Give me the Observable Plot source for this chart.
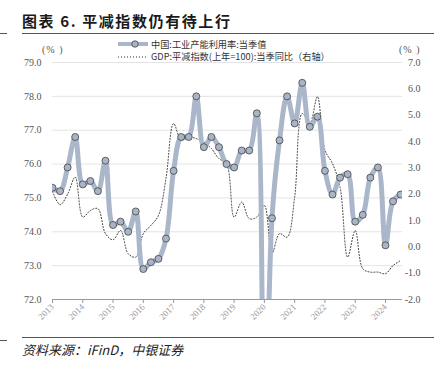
<!DOCTYPE html>
<html><head><meta charset="utf-8">
<script src="https://cdn.jsdelivr.net/npm/d3@7"></script>
<script src="https://cdn.jsdelivr.net/npm/@observablehq/plot@0.6"></script>
<style>
body{margin:0;background:#fff;}
#wrap{position:relative;width:442px;height:365px;overflow:hidden;font-family:"Noto Sans CJK SC",sans-serif;background:#fff;}
#title{position:absolute;left:22px;top:12px;font-size:15px;line-height:18px;font-weight:bold;color:#1a1a1a;white-space:nowrap;letter-spacing:1.6px;}
.rule{position:absolute;left:22px;width:412px;height:1.4px;background:#555;}
.dash{position:absolute;left:0;width:7px;height:1px;background:#555;}
.unit{position:absolute;font-family:"Liberation Serif",serif;font-size:10px;color:#555;letter-spacing:1px;line-height:12px;}
.leg{position:absolute;left:118px;height:11px;line-height:11px;display:flex;align-items:center;font-size:9.2px;color:#333;white-space:nowrap;}
.leg svg{margin-right:3px;}
#caption{position:absolute;left:22px;top:341px;font-size:13px;line-height:17px;font-style:italic;color:#222;white-space:nowrap;}
#chart{position:absolute;left:0;top:0;}
</style></head><body>
<div id="wrap">
  <div id="chart"></div>
  <div id="title">图表 6. 平减指数仍有待上行</div>
  <div class="rule" style="top:33px"></div>
  <div class="dash" style="top:33px"></div>
  <div class="unit" style="left:42px;top:44px">(% )</div>
  <div class="unit" style="left:399px;top:44px">(% )</div>
  <div class="leg" style="top:38.5px"><svg width="30" height="10"><line x1="0" y1="5" x2="30" y2="5" stroke="#aab6c9" stroke-width="4"/><circle cx="17" cy="5" r="3.2" fill="#a9b4c6" stroke="#444" stroke-width="0.8"/></svg>中国:工业产能利用率:当季值</div>
  <div class="leg" style="top:51px"><svg width="30" height="10"><line x1="0" y1="5" x2="30" y2="5" stroke="#333" stroke-width="1" stroke-dasharray="1,2"/></svg>GDP:平减指数(上年=100):当季同比（右轴）</div>
  <div class="rule" style="top:337px"></div>
  <div class="dash" style="top:340px"></div>
  <div id="caption">资料来源：iFinD，中银证券</div>
</div>
<script>
const quarters = [
  "2013Q1","2013Q2","2013Q3","2013Q4","2014Q1","2014Q2","2014Q3","2014Q4",
  "2015Q1","2015Q2","2015Q3","2015Q4","2016Q1","2016Q2","2016Q3","2016Q4",
  "2017Q1","2017Q2","2017Q3","2017Q4","2018Q1","2018Q2","2018Q3","2018Q4",
  "2019Q1","2019Q2","2019Q3","2019Q4","2020Q1","2020Q2","2020Q3","2020Q4",
  "2021Q1","2021Q2","2021Q3","2021Q4","2022Q1","2022Q2","2022Q3","2022Q4",
  "2023Q1","2023Q2","2023Q3","2023Q4","2024Q1","2024Q2","2024Q3"
];
const capUtil = [
  75.3, 75.2, 75.9, 76.8,
  75.4, 75.5, 75.2, 76.1,
  74.2, 74.3, 74.0, 74.6,
  72.9, 73.1, 73.2, 73.8,
  75.8, 76.8, 76.8, 78.0,
  76.5, 76.8, 76.5, 76.0,
  75.9, 76.4, 76.4, 77.5,
  67.3, 74.4, 76.7, 78.0,
  77.2, 78.4, 77.1, 77.4,
  75.8, 75.1, 75.6, 75.7,
  74.3, 74.5, 75.6, 75.9,
  73.6, 74.9, 75.1
];
const deflator = [
  2.1, 1.6, 2.0, 2.65,
  1.13, 1.38, 1.45, 0.5,
  0.27, 0.62, -0.26, -0.39,
  0.5, 0.81, 1.19, 2.6,
  4.68, 4.05, 4.17, 4.11,
  3.98, 3.73, 3.35, 3.16,
  1.13, 1.7, 1.07, 1.13,
  1.57, -0.26, 0.5, 0.37,
  1.89, 5.06, 4.7, 5.7,
  3.67, 3.16, 2.27, -0.39,
  0.62, -0.83, -0.96, -0.96,
  -1.02, -0.71, -0.52
];
const yearLabels = ["2013","2014","2015","2016","2017","2018","2019","2020","2021","2022","2023","2024"];
const leftTicks = [72, 73, 74, 75, 76, 77, 78, 79];
const rightTicks = [-2, -1, 0, 1, 2, 3, 4, 5, 6, 7];

// map right-axis values onto the left-axis scale
const toLeft = v => 72 + (v + 2) * 7 / 9;
const fromLeft = d => (d - 72) * 9 / 7 - 2;

const data = quarters.map((q, i) => ({i, q, cap: capUtil[i], def: toLeft(deflator[i])}));
const yearPos = yearLabels.map(y => quarters.indexOf(y + "Q1"));

const chart = Plot.plot({
  width: 442, height: 330,
  marginLeft: 52, marginRight: 40, marginTop: 62, marginBottom: 31,
  style: {fontFamily: "'Liberation Serif', serif", fontSize: "10px", background: "transparent", overflow: "visible"},
  x: {domain: [0, 46.25], axis: null},
  y: {domain: [72, 79], axis: null},
  marks: [
    Plot.gridY(leftTicks.slice(1), {stroke: "#e4e4e4", strokeOpacity: 1}),
    Plot.axisY(leftTicks, {anchor: "left", tickSize: 0, tickPadding: 11, label: null, tickFormat: d => d.toFixed(1), fill: "#555"}),
    Plot.axisY(rightTicks.map(toLeft), {anchor: "right", tickSize: 0, tickPadding: 3, textAnchor: "end", dx: 15, label: null,
      tickFormat: d => fromLeft(d).toFixed(1), fill: "#555"}),
    Plot.ruleY([72], {stroke: "#999"}),
    Plot.axisX(yearPos, {anchor: "bottom", tickSize: 4, tickPadding: 2, tickRotate: -45, label: null,
      tickFormat: (d, k) => yearLabels[k], stroke: "#999", fill: "#999", fontSize: 9}),
    Plot.line(data, {x: "i", y: "def", stroke: "#333", strokeWidth: 1, strokeDasharray: "1,2", curve: "catmull-rom", clip: true}),
    Plot.line(data, {x: "i", y: "cap", stroke: "#aab6c9", strokeWidth: 5, curve: "catmull-rom", clip: true}),
    Plot.dot(data, {x: "i", y: "cap", r: 3.5, fill: "#a9b4c6", stroke: "#444", strokeWidth: 0.8, clip: true})
  ]
});
document.getElementById("chart").appendChild(chart);
</script>
</body></html>
